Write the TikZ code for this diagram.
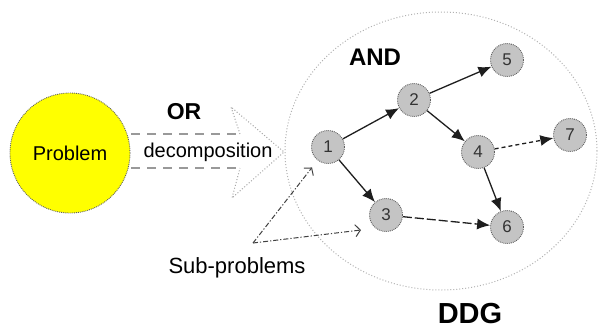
\documentclass[tikz,border=0pt]{standalone}
\usepackage{fontspec}
\setmainfont{Liberation Sans}
\usetikzlibrary{arrows.meta}

\definecolor{probyellow}{HTML}{FFFF00}
\definecolor{taskgray}{HTML}{C4C4C4}
\definecolor{rimgray}{HTML}{606060}
\definecolor{edgeink}{HTML}{1E1E1E}

\tikzset{
  fs/.style={font=\fontsize{#1}{#1}\selectfont},
  problem/.style={circle, minimum size=120pt, inner sep=0pt, fill=probyellow,
    draw=rimgray, densely dotted, line width=0.9pt, fs=20},
  task/.style={circle, minimum size=33pt, inner sep=0pt, fill=taskgray,
    draw=rimgray, densely dotted, line width=0.9pt, fs=17, text=black!80},
  dep/.style={draw=edgeink, line width=1.3pt, -{Latex[length=13pt,width=11pt]}},
  depdash/.style={dep, dash pattern=on 4pt off 3pt},
  deplong/.style={dep, dash pattern=on 9pt off 3pt},
  body/.style={draw=gray!80, line width=1.3pt, dash pattern=on 9pt off 7pt},
  head/.style={draw=gray!70, line width=1pt, dotted},
  oval/.style={draw=gray!60, line width=1pt, dotted},
  pointer/.style={draw=edgeink!85, line width=1pt,
    dash pattern=on 5pt off 2pt on 1.2pt off 2pt,
    -{Straight Barb[length=5pt,width=12pt]}},
}

\begin{document}
\begin{tikzpicture}[x=1pt, y=-1pt]
  \useasboundingbox (0,0) rectangle (600,330);

  % the data dependency graph's outline
  \draw[oval] (441,151) ellipse [x radius=156pt, y radius=139pt];

  % the problem to be decomposed
  \node[problem] (prob) at (70,153) {Problem};

  % hollow decomposition arrow
  \coordinate (bt) at (131,134);
  \coordinate (bb) at (131,168);
  \coordinate (ht) at (240,134);
  \coordinate (hb) at (240,168);
  \coordinate (hu) at (231,107);
  \coordinate (hd) at (232,198);
  \coordinate (tip) at (284,152);
  \draw[body] (bt) -- (ht);
  \draw[body] (bb) -- (hb);
  \draw[head] (ht) -- (hu) -- (tip) -- (hd) -- (hb);
  \node[fs=20] (dec) at (208,152) {decomposition};
  \node[font=\fontsize{23}{23}\selectfont\bfseries] (or) at (184,112) {OR};

  % tasks
  \node[task] (n1) at (328,147) {1};
  \node[task] (n2) at (414,100) {2};
  \node[task] (n3) at (386,215) {3};
  \node[task] (n4) at (478,152) {4};
  \node[task] (n5) at (507,60)  {5};
  \node[task] (n6) at (507,227) {6};
  \node[task] (n7) at (570,135) {7};

  % dependencies
  \draw[dep] (n1) -- (n2);
  \draw[dep] (n1) -- (n3);
  \draw[dep] (n2) -- (n5);
  \draw[dep] (n2) -- (n4);
  \draw[depdash] (n4) -- (n7);
  \draw[dep] (n4) -- (n6);
  \draw[deplong] (n3) -- (n6);

  \node[font=\fontsize{24}{24}\selectfont\bfseries] (and) at (375,57) {AND};
  \node[font=\fontsize{29}{29}\selectfont\bfseries, inner sep=1pt] (ddg) at (470,314) {DDG};

  % sub-problem callout
  \node[fs=22] (sub) at (237,268) {Sub-problems};
  \coordinate (apex) at (253,243);
  \coordinate (t3) at (361,230);
  \draw[pointer, shorten >=9pt] (apex) -- (n1);
  \draw[pointer] (apex) -- (t3);
\end{tikzpicture}
\end{document}
